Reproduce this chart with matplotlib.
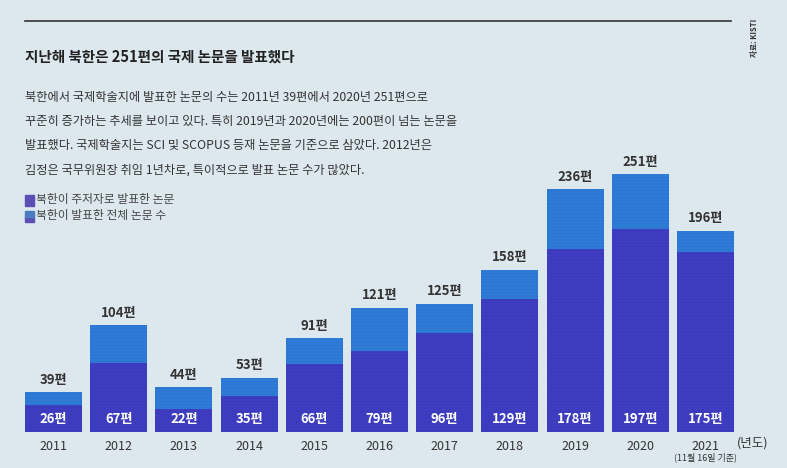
import numpy as np
import matplotlib.pyplot as plt

plt.rcParams['font.family'] = ['Noto Sans CJK KR', 'DejaVu Sans']

# 데이터
years = ['2011', '2012', '2013', '2014', '2015', '2016', '2017', '2018', '2019', '2020', '2021']
total = [39, 104, 44, 53, 91, 121, 125, 158, 236, 251, 196]
first_author = [26, 67, 22, 35, 66, 79, 96, 129, 178, 197, 175]

bg = '#dde8ee'
c_total = '#2e7bd6'
c_first = '#3e3cc0'
W, H = 787, 468


def fx(x):
    return x / W


def fy(y):
    return 1 - y / H


fig = plt.figure(figsize=(7.87, 4.68), dpi=100, facecolor=bg)

# 축 위치 (픽셀 기준)
left, right = 21, 738
base, top = 432, 432 - 260 * 1.028
ax = fig.add_axes([fx(left), fy(base), (right - left) / W, (base - top) / H])
ax.set_facecolor(bg)
ax.set_xlim(-0.5, 10.5)
ax.set_ylim(0, 260)
ax.axis('off')

x = np.arange(len(years))
ax.bar(x, total, width=0.875, color=c_total, zorder=2)
ax.bar(x, first_author, width=0.875, color=c_first, zorder=3)

# 줄무늬 질감
for i in x:
    for yy in np.arange(1.5, total[i], 3.2):
        ax.plot([i - 0.4375, i + 0.4375], [yy, yy], color='#1a2a80', lw=0.4, alpha=0.12, zorder=4)

for i in x:
    ax.text(i, total[i] + 5, f'{total[i]}편', ha='center', va='bottom',
            fontsize=9.5, fontweight='bold', color='#333333')
    ax.text(i, 13, f'{first_author[i]}편', ha='center', va='center',
            fontsize=9.5, fontweight='bold', color='white', zorder=5)
    ax.text(i, -8, years[i], ha='center', va='top', fontsize=9, color='#333333', clip_on=False)

ax.text(10, -20, '(11월 16일 기준)', ha='center', va='top', fontsize=6.5, color='#333333', clip_on=False)
fig.text(fx(737), fy(443), '(년도)', ha='left', va='center', fontsize=9, color='#333333')

# 상단 선
fig.add_artist(plt.Line2D([fx(25), fx(731)], [fy(21), fy(21)], color='#333333', lw=1.2))
fig.text(fx(755), fy(38), '자료: KISTI', rotation=90, ha='center', va='center',
         fontsize=5.5, fontweight='bold', color='#333333')

# 제목, 본문
fig.text(fx(25), fy(57), '지난해 북한은 251편의 국제 논문을 발표했다', ha='left', va='center',
         fontsize=10.5, fontweight='bold', color='#222222')
body = ['북한에서 국제학술지에 발표한 논문의 수는 2011년 39편에서 2020년 251편으로',
        '꾸준히 증가하는 추세를 보이고 있다. 특히 2019년과 2020년에는 200편이 넘는 논문을',
        '발표했다. 국제학술지는 SCI 및 SCOPUS 등재 논문을 기준으로 삼았다. 2012년은',
        '김정은 국무위원장 취임 1년차로, 특이적으로 발표 논문 수가 많았다.']
for k, line in enumerate(body):
    fig.text(fx(25), fy(97 + k * 24.3), line, ha='left', va='center', fontsize=8.8, color='#333333')

# 범례
fig.add_artist(plt.Rectangle((fx(25), fy(206)), 9 / W, 11 / H, color='#5b4fb5'))
fig.add_artist(plt.Rectangle((fx(25), fy(222)), 9 / W, 5.5 / H, color='#5b4fb5'))
fig.add_artist(plt.Rectangle((fx(25), fy(216.5)), 9 / W, 5.5 / H, color='#4a7ec0'))
fig.text(fx(36), fy(200), '북한이 주저자로 발표한 논문', ha='left', va='center', fontsize=8.5, color='#444444')
fig.text(fx(36), fy(216), '북한이 발표한 전체 논문 수', ha='left', va='center', fontsize=8.5, color='#444444')

plt.savefig('out.png', dpi=100, facecolor=bg)
